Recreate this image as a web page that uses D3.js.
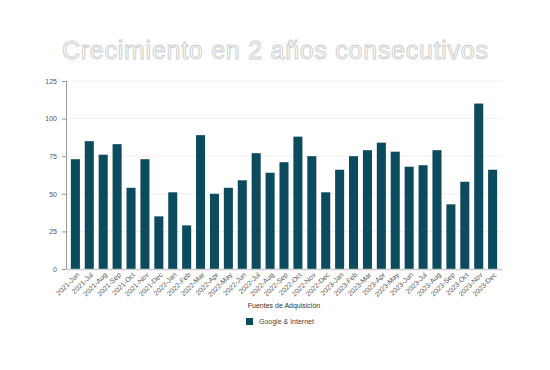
<!DOCTYPE html>
<html>
<head>
<meta charset="utf-8">
<script src="https://cdn.jsdelivr.net/npm/d3@7"></script>
<style>
  body { margin: 0; background: #fff; }
  text { font-family: "Liberation Sans", Arial, sans-serif; }
</style>
</head>
<body>
<div id="chart"></div>
<script>
const months = ["2021-Jun","2021-Jul","2021-Aug","2021-Sep","2021-Oct","2021-Nov","2021-Dec",
    "2022-Jan","2022-Feb","2022-Mar","2022-Apr","2022-May","2022-Jun","2022-Jul","2022-Aug","2022-Sep","2022-Oct","2022-Nov","2022-Dec",
    "2023-Jan","2023-Feb","2023-Mar","2023-Apr","2023-May","2023-Jun","2023-Jul","2023-Aug","2023-Sep","2023-Oct","2023-Nov","2023-Dec"];
const googleInternet = [73, 85, 76, 83, 54, 73, 35, 51, 29, 89, 50, 54, 59, 77, 64, 71, 88, 75, 51, 66, 75, 79, 84, 78, 68, 69, 79, 43, 58, 110, 66];
const yTicks = [0, 25, 50, 75, 100, 125];
const seriesName = "Google & Internet";
const xTitle = "Fuentes de Adquisición";
const chartTitle = "Crecimiento en 2 años consecutivos";

function drawChart() {
    const width = 550, height = 370;
    const margin = { top: 81, right: 48, bottom: 101, left: 66 };
    const innerW = width - margin.left - margin.right,
        innerH = height - margin.top - margin.bottom;
    const color = "#0c4b5e";

    const svg = d3.select("#chart")
        .append("svg")
        .attr("width", width)
        .attr("height", height);

    // title: white letters with a soft grey outline
    svg.append("text")
        .attr("x", width / 2)
        .attr("y", 59)
        .attr("text-anchor", "middle")
        .style("font-size", "25px")
        .attr("fill", "#fff")
        .attr("stroke", "#d0d0d0")
        .attr("stroke-width", 1)
        .attr("textLength", 426)
        .text(chartTitle);

    const g = svg.append("g")
        .attr("transform", `translate(${margin.left}, ${margin.top})`);

    const x = d3.scaleBand()
        .domain(months)
        .range([0, innerW])
        .paddingInner(0.35)
        .paddingOuter(0.35);

    const y = d3.scaleLinear()
        .domain([0, 125])
        .range([innerH, 0]);

    // grid
    g.append("g")
        .selectAll("line")
        .data(yTicks.slice(1))
        .join("line")
        .attr("x1", 0)
        .attr("x2", innerW)
        .attr("y1", d => y(d))
        .attr("y2", d => y(d))
        .attr("stroke", "#f0f0f0");

    const yAxis = g.append("g")
        .call(d3.axisLeft(y).tickValues(yTicks).tickSize(4).tickPadding(5));
    yAxis.select(".domain").attr("stroke", "#999");
    yAxis.selectAll(".tick line").attr("stroke", "#999");
    yAxis.selectAll("text").style("font-size", "7px").attr("fill", "#555");

    g.selectAll(".bar")
        .data(googleInternet)
        .join("rect")
        .attr("class", "bar")
        .attr("x", (d, i) => x(months[i]))
        .attr("y", d => y(d))
        .attr("width", x.bandwidth())
        .attr("height", d => innerH - y(d))
        .attr("fill", color);

    const xAxis = g.append("g")
        .attr("transform", `translate(0, ${innerH})`)
        .call(d3.axisBottom(x).tickSize(0).tickPadding(4));
    xAxis.select(".domain").attr("stroke", "#ccc").attr("stroke-width", 1.5);
    xAxis.selectAll("text")
        .style("font-size", "7px")
        .attr("fill", "#555")
        .style("text-anchor", "end")
        .attr("dx", "-0.2em")
        .attr("dy", "0.5em")
        .attr("transform", "rotate(-45)");

    svg.append("text")
        .attr("x", margin.left + innerW / 2)
        .attr("y", 308)
        .attr("text-anchor", "middle")
        .style("font-size", "7px")
        .attr("fill", "#333")
        .text(xTitle);

    // legend
    const legend = svg.append("g").attr("transform", "translate(246, 318)");
    legend.append("rect")
        .attr("width", 7)
        .attr("height", 7)
        .attr("fill", color);
    legend.append("text")
        .attr("x", 13)
        .attr("y", 6)
        .style("font-size", "7px")
        .attr("fill", "#444")
        .text(seriesName);
}

document.addEventListener("DOMContentLoaded", drawChart);
</script>
</body>
</html>
